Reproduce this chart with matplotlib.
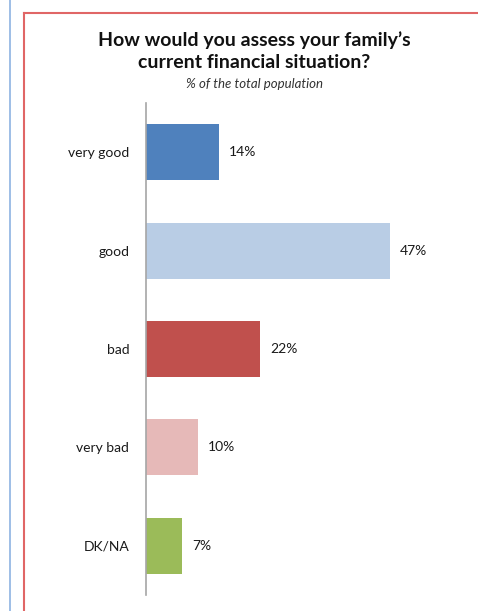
import matplotlib.pyplot as plt
from matplotlib.lines import Line2D

# data
categories = ['very good', 'good', 'bad', 'very bad', 'DK/NA']
values = [14, 47, 22, 10, 7]
colors = ['#4F81BD', '#B9CDE5', '#C0504D', '#E6B9B8', '#9BBB59']

plt.rcParams['font.family'] = ['Lato', 'DejaVu Sans']

W, H = 478, 611
fig = plt.figure(figsize=(W / 100, H / 100), dpi=100)
fig.patch.set_facecolor('white')

# frame lines (page decoration)
fig.add_artist(Line2D([10 / W, 10 / W], [0, 1], color='#8DB3E2', lw=1.2))
fig.add_artist(Line2D([24 / W, 24 / W], [0, 1 - 13 / H], color='#E06666', lw=1.5))
fig.add_artist(Line2D([24 / W, 1], [1 - 13 / H, 1 - 13 / H], color='#E06666', lw=1.5))

ax = fig.add_axes([146 / W, 1 - 595 / H, 311 / W, 492 / H])
y = list(range(len(categories)))
ax.barh(y, values, height=0.57, color=colors)
for yi, v in zip(y, values):
    ax.text(v + 1.9, yi, f'{v}%', va='center', ha='left', fontsize=10, color='#1a1a1a')

ax.set_ylim(4.5, -0.5)
ax.set_xlim(0, 60)
ax.set_yticks(y)
ax.set_yticklabels(categories, fontsize=10, color='#1a1a1a')
ax.tick_params(axis='y', length=0, pad=12)
ax.set_xticks([])
for s in ['top', 'right', 'bottom']:
    ax.spines[s].set_visible(False)
ax.spines['left'].set_color('#A6A6A6')
ax.spines['left'].set_linewidth(1.2)

fig.text(254 / W, 1 - 40 / H, 'How would you assess your family’s', ha='center', va='center',
         fontsize=14, fontweight='bold', color='#111111')
fig.text(254 / W, 1 - 63 / H, 'current financial situation?', ha='center', va='center',
         fontsize=14, fontweight='bold', color='#111111')
fig.text(254 / W, 1 - 84 / H, '% of the total population', ha='center', va='center',
         fontsize=9.5, style='italic', color='#333333')

fig.savefig('out.png', dpi=100)
